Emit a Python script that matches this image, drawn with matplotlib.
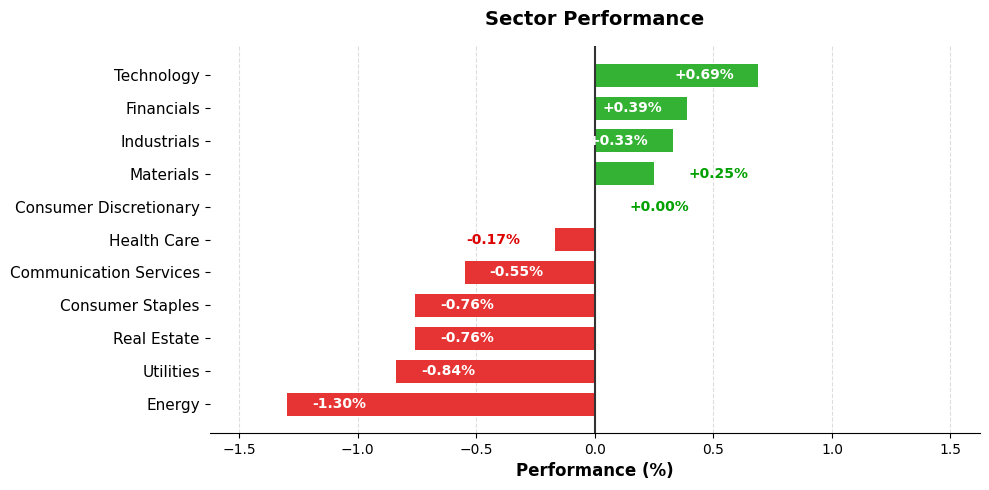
import matplotlib
matplotlib.use("Agg")
import matplotlib.pyplot as plt

sectors = ["Energy", "Utilities", "Real Estate", "Consumer Staples",
           "Communication Services", "Health Care", "Consumer Discretionary",
           "Materials", "Industrials", "Financials", "Technology"]
changes = [-1.30, -0.84, -0.76, -0.76, -0.55, -0.17, 0.00, 0.25, 0.33, 0.39, 0.69]

GREEN = "#33b233"
RED = "#e63333"
GREEN_TXT = "#00a000"
RED_TXT = "#dd0000"


def main():
    fig, ax = plt.subplots(figsize=(9.89, 4.9), dpi=100)
    colors = [GREEN if v >= 0 else RED for v in changes]
    ypos = list(range(len(sectors)))
    ax.barh(ypos, changes, height=0.7, color=colors, zorder=2)

    for y, v in zip(ypos, changes):
        label = "%+.2f%%" % v
        if abs(v) >= 0.3:
            # inside the bar
            x = v - 0.23 if v > 0 else v + 0.22
            ax.text(x, y, label, ha="center", va="center", color="white",
                    fontsize=10, fontweight="bold", zorder=4)
        else:
            x = v + 0.27 if v >= 0 else v - 0.26
            ax.text(x, y, label, ha="center", va="center",
                    color=GREEN_TXT if v >= 0 else RED_TXT,
                    fontsize=10, fontweight="bold", zorder=4)

    lim = max(abs(v) for v in changes) * 1.25
    ax.set_xlim(-lim, lim)
    ax.axvline(0, color="#333333", linewidth=1.5, zorder=3)
    ax.set_yticks(ypos)
    ax.set_yticklabels(sectors, fontsize=11)
    ax.tick_params(axis="x", labelsize=10)
    ax.xaxis.grid(True, linestyle="--", color="#dddddd", linewidth=0.8, zorder=0)
    ax.set_axisbelow(True)
    for s in ["top", "right", "left"]:
        ax.spines[s].set_visible(False)
    ax.set_xlabel("Performance (%)", fontsize=12, fontweight="bold")
    ax.set_title("Sector Performance", fontsize=14, fontweight="bold", pad=15)

    fig.subplots_adjust(left=0.212, right=0.991, top=0.906, bottom=0.116)
    plt.savefig("out.png", dpi=100)


if __name__ == "__main__":
    main()
